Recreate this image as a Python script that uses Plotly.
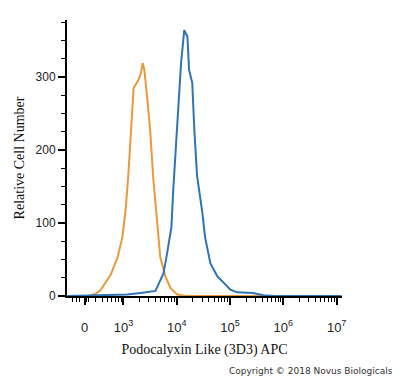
import numpy as np
import plotly.graph_objects as go

# Axis position units: decade scale (10^3 -> 3, ..., 10^7 -> 7); zero sits in the linear region
isotype_x = [1.95, 2.35, 2.48, 2.57, 2.76, 2.89, 2.98, 3.04, 3.09, 3.15, 3.19, 3.26, 3.32, 3.36,
             3.39, 3.45, 3.50, 3.56, 3.64, 3.69, 3.79, 3.88, 4.01, 4.16, 7.09]
isotype_y = [0, 0, 3, 8, 29, 53, 81, 118, 165, 241, 285, 293, 303, 319,
             310, 268, 227, 160, 95, 53, 26, 11, 2, 0, 0]

antibody_x = [1.95, 3.07, 3.32, 3.45, 3.56, 3.60, 3.65, 3.75, 3.82, 3.90, 3.93, 3.97, 4.01, 4.08,
              4.14, 4.20, 4.23, 4.29, 4.33, 4.38, 4.48, 4.53, 4.63, 4.76, 4.87, 5.00, 5.13,
              5.43, 5.62, 5.84, 7.09]
antibody_y = [0, 2, 4, 5, 6, 7, 15, 31, 59, 95, 141, 186, 241, 319,
              364, 355, 310, 292, 227, 165, 114, 81, 45, 27, 19, 9, 5,
              4, 1, 0, 0]

x_tickvals = [2.27, 3, 4, 5, 6, 7]
x_ticktext = ["0", "10<sup>3</sup>", "10<sup>4</sup>", "10<sup>5</sup>", "10<sup>6</sup>", "10<sup>7</sup>"]
y_tickvals = [0, 100, 200, 300]

x_minor = []
for k in range(2, 7):
    for m in range(2, 10):
        x_minor.append(k + np.log10(m))
x_minor = [v for v in x_minor if 2.0 < v < 7.1]
x_minor += [2.05, 2.12, 2.18, 2.35]

fig = go.Figure()
fig.add_trace(go.Scatter(x=isotype_x, y=isotype_y, mode="lines",
                         line=dict(color="#EA9A3C", width=2), showlegend=False))
fig.add_trace(go.Scatter(x=antibody_x, y=antibody_y, mode="lines",
                         line=dict(color="#2F74B5", width=2), showlegend=False))

fig.update_layout(
    width=392, height=370,
    margin=dict(l=59, r=58, t=12, b=82),
    paper_bgcolor="white", plot_bgcolor="white",
    xaxis=dict(
        range=[1.94, 7.10], showgrid=False, zeroline=False, automargin=False,
        showline=True, linecolor="black", linewidth=2,
        ticks="outside", ticklen=7, tickwidth=1.5, tickcolor="black",
        tickvals=x_tickvals, ticktext=x_ticktext, ticklabelstandoff=11,
        tickfont=dict(family="Liberation Sans, Arial", size=13, color="#222"),
        minor=dict(tickvals=x_minor, ticks="outside", ticklen=4, tickwidth=1, tickcolor="black"),
        title=dict(text="Podocalyxin Like (3D3) APC",
                   font=dict(family="Liberation Serif, Times New Roman", size=14, color="#111"),
                   standoff=11),
    ),
    yaxis=dict(
        range=[0, 378], showgrid=False, zeroline=False, automargin=False,
        showline=True, linecolor="black", linewidth=2,
        ticks="outside", ticklen=7, tickwidth=1.5, tickcolor="black",
        tickvals=y_tickvals,
        tickfont=dict(family="Liberation Sans, Arial", size=12, color="#222"),
        minor=dict(dtick=25, tick0=0, ticks="outside", ticklen=4, tickwidth=1, tickcolor="black"),
        title=dict(text="Relative Cell Number",
                   font=dict(family="Liberation Serif, Times New Roman", size=14, color="#111"),
                   standoff=8),
    ),
    annotations=[dict(text="Copyright © 2018 Novus Biologicals", xref="paper", yref="paper",
                      x=1.193, y=-0.27, xanchor="right", yanchor="middle", showarrow=False,
                      font=dict(family="DejaVu Sans", size=9, color="#333"))],
)

fig.write_html("out.html")
